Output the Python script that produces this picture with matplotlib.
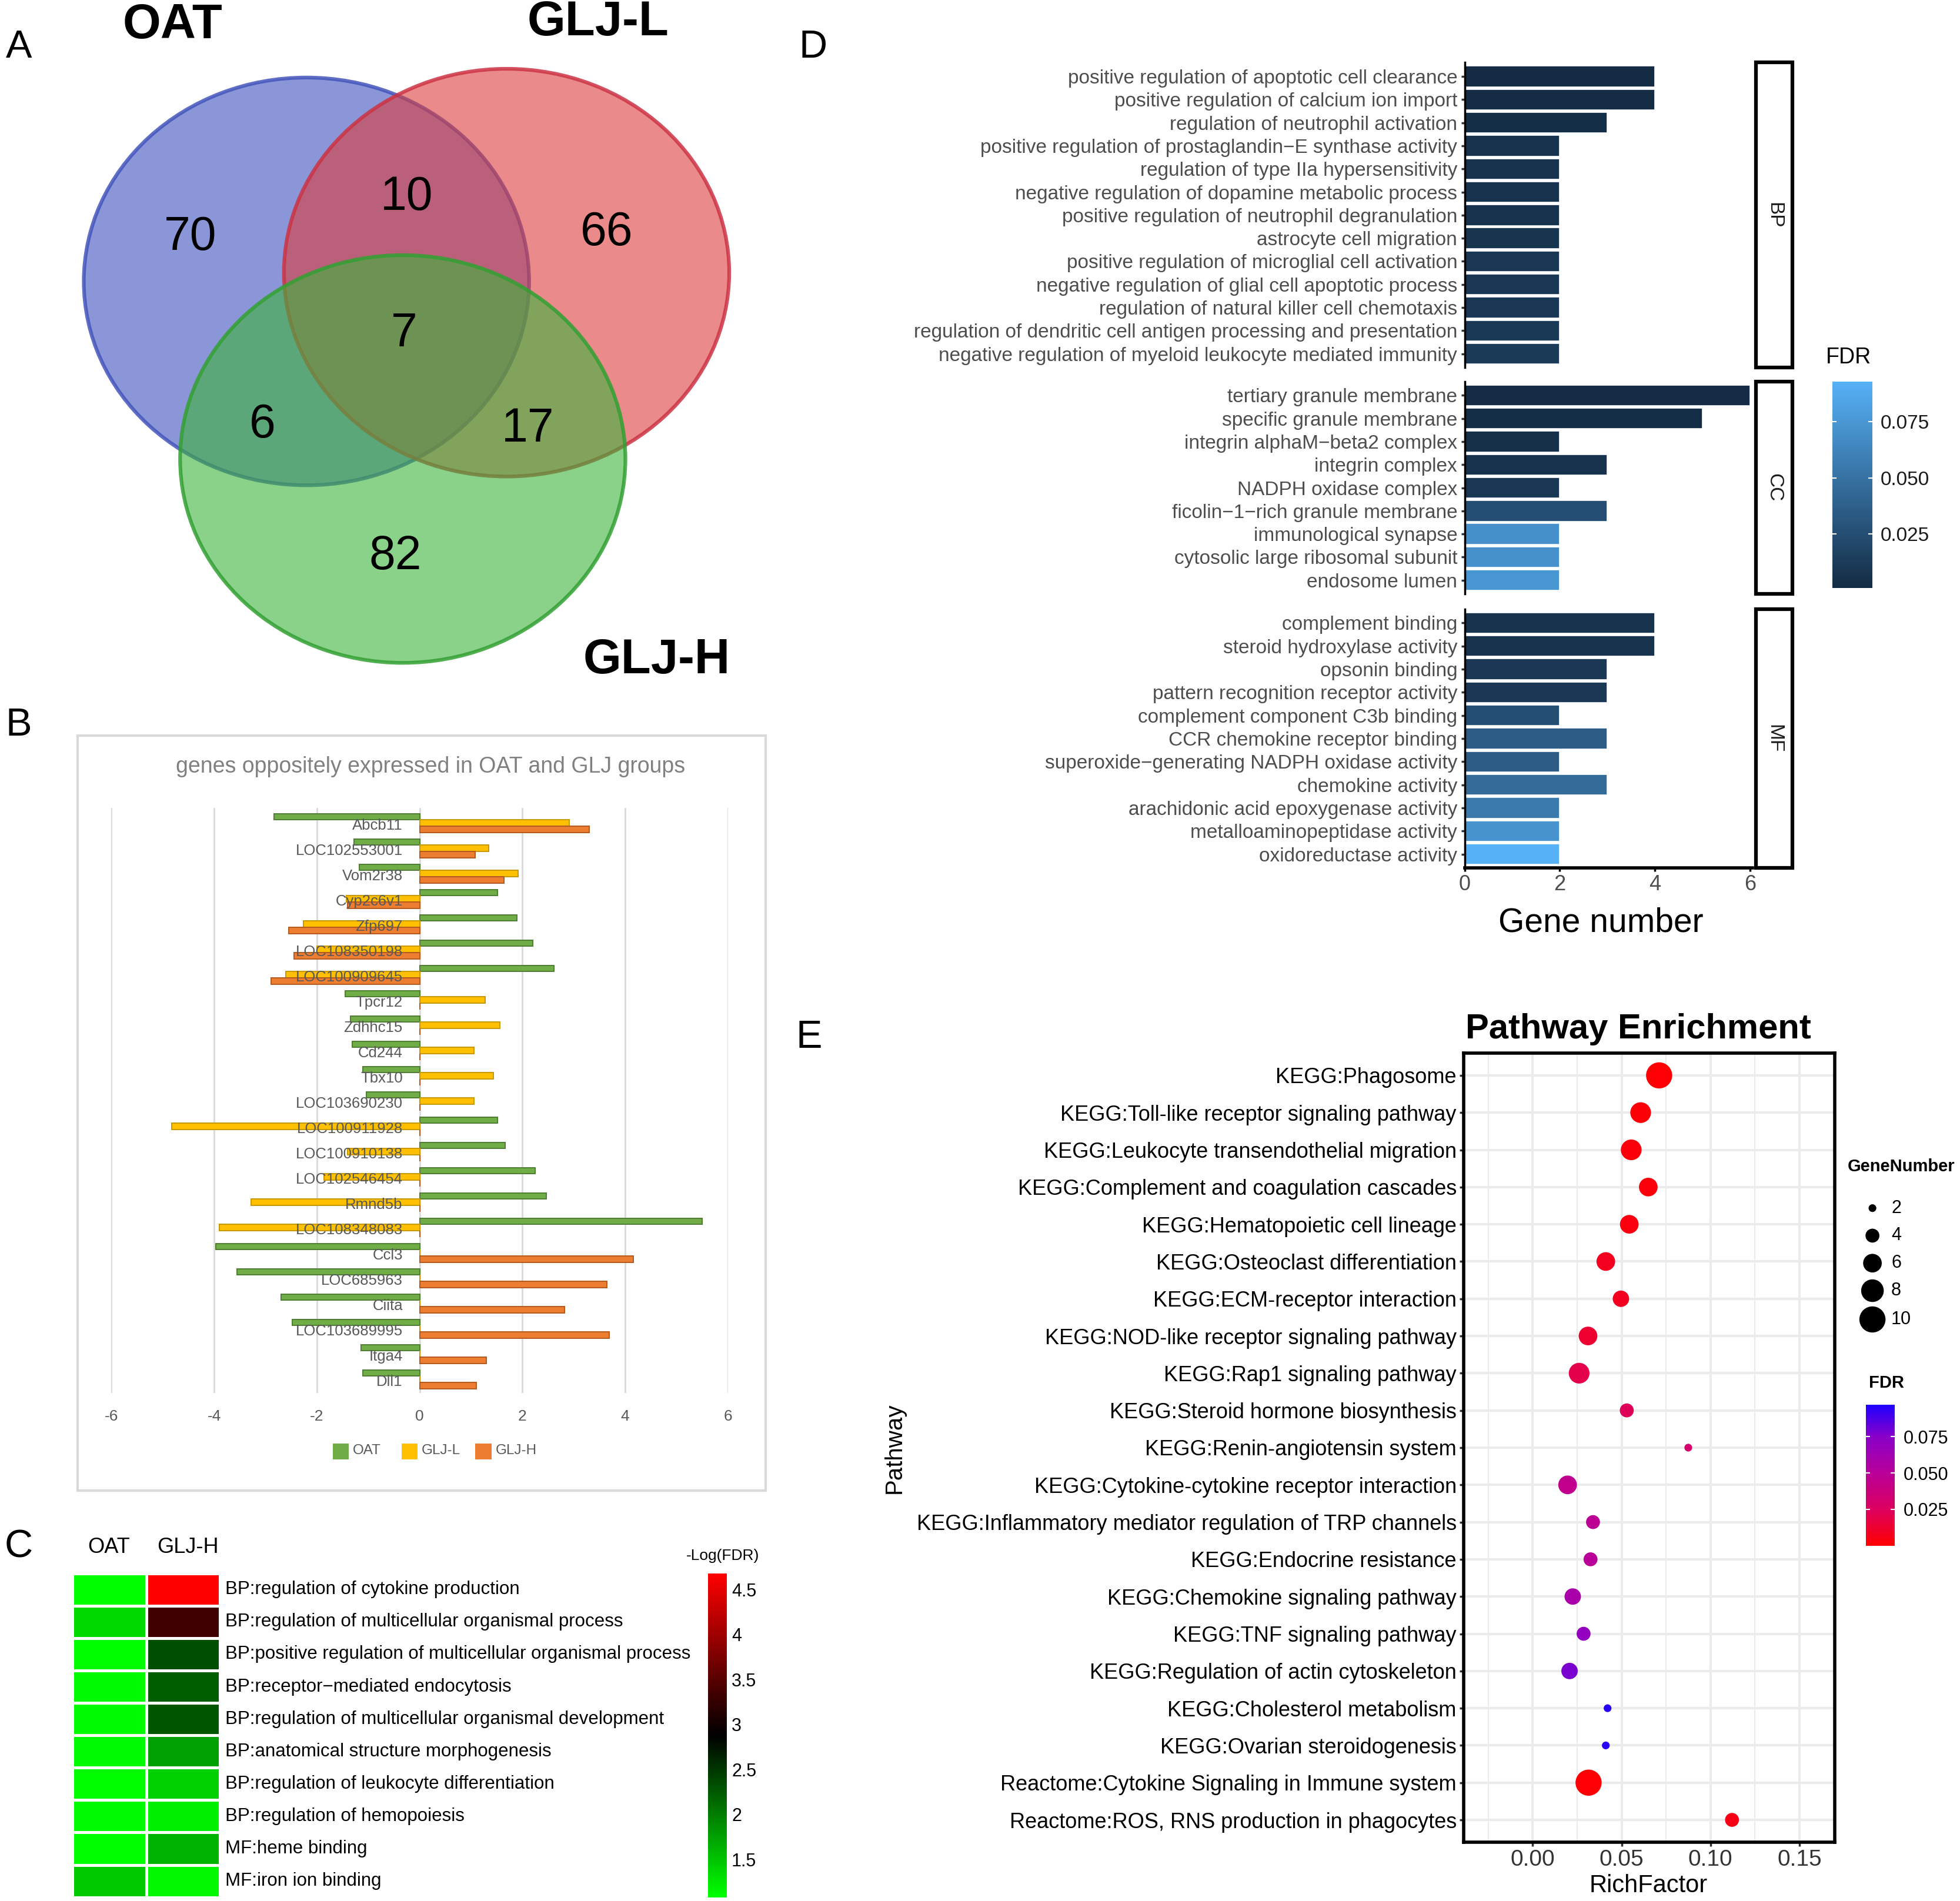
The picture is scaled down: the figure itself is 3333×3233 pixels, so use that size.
import numpy as np
import matplotlib
matplotlib.use("Agg")
import matplotlib.pyplot as plt
from matplotlib.patches import Ellipse, Rectangle
from matplotlib.colors import LinearSegmentedColormap, Normalize
from matplotlib.cm import ScalarMappable
from matplotlib import font_manager as fm

# ---- data ----------------------------------------------------------------
venn_labels = ["OAT", "GLJ-L", "GLJ-H"]
venn_counts = [70, 10, 66, 7, 6, 17, 82]

genes = ["Abcb11", "LOC102553001", "Vom2r38", "Cyp2c6v1", "Zfp697", "LOC108350198",
         "LOC100909645", "Tpcr12", "Zdhhc15", "Cd244", "Tbx10", "LOC103690230",
         "LOC100911928", "LOC100910138", "LOC102546454", "Rmnd5b", "LOC108348083",
         "Ccl3", "LOC685963", "Ciita", "LOC103689995", "Itga4", "Dll1"]
oat = [-2.83, -1.28, -1.17, 1.52, 1.89, 2.20, 2.61, -1.45, -1.35, -1.31, -1.11, -1.04,
       1.51, 1.66, 2.25, 2.47, 5.50, -3.97, -3.55, -2.70, -2.48, -1.14, -1.11]
glj_l = [2.91, 1.34, 1.92, -1.43, -2.26, -2.00, -2.61, 1.28, 1.56, 1.06, 1.43, 1.06,
         -4.82, -1.40, -1.86, -3.28, -3.90, 0, 0, 0, 0, 0, 0]
glj_h = [3.30, 1.08, 1.64, -1.40, -2.55, -2.45, -2.89, 0, 0, 0, 0, 0,
         0, 0, 0, 0, 0, 4.16, 3.64, 2.82, 3.69, 1.30, 1.10]

c_terms = ["BP:regulation of cytokine production",
           "BP:regulation of multicellular organismal process",
           "BP:positive regulation of multicellular organismal process",
           "BP:receptor\u2212mediated endocytosis",
           "BP:regulation of multicellular organismal development",
           "BP:anatomical structure morphogenesis",
           "BP:regulation of leukocyte differentiation",
           "BP:regulation of hemopoiesis",
           "MF:heme binding",
           "MF:iron ion binding"]
c_oat = [1.10, 1.35, 1.10, 1.12, 1.12, 1.12, 1.10, 1.12, 1.10, 1.47]
c_gljh = [4.68, 3.33, 2.32, 2.22, 2.28, 1.75, 1.42, 1.18, 1.62, 1.13]

bp_terms = ["positive regulation of apoptotic cell clearance",
            "positive regulation of calcium ion import",
            "regulation of neutrophil activation",
            "positive regulation of prostaglandin\u2212E synthase activity",
            "regulation of type IIa hypersensitivity",
            "negative regulation of dopamine metabolic process",
            "positive regulation of neutrophil degranulation",
            "astrocyte cell migration",
            "positive regulation of microglial cell activation",
            "negative regulation of glial cell apoptotic process",
            "regulation of natural killer cell chemotaxis",
            "regulation of dendritic cell antigen processing and presentation",
            "negative regulation of myeloid leukocyte mediated immunity"]
bp_count = [4, 4, 3, 2, 2, 2, 2, 2, 2, 2, 2, 2, 2]
bp_fdr = [0.001, 0.002, 0.003, 0.006, 0.006, 0.007, 0.007, 0.008, 0.009, 0.009, 0.010, 0.011, 0.012]

cc_terms = ["tertiary granule membrane", "specific granule membrane",
            "integrin alphaM\u2212beta2 complex", "integrin complex", "NADPH oxidase complex",
            "ficolin\u22121\u2212rich granule membrane", "immunological synapse",
            "cytosolic large ribosomal subunit", "endosome lumen"]
cc_count = [6, 5, 2, 3, 2, 3, 2, 2, 2]
cc_fdr = [0.002, 0.003, 0.004, 0.006, 0.009, 0.025, 0.070, 0.071, 0.074]

mf_terms = ["complement binding", "steroid hydroxylase activity", "opsonin binding",
            "pattern recognition receptor activity", "complement component C3b binding",
            "CCR chemokine receptor binding", "superoxide\u2212generating NADPH oxidase activity",
            "chemokine activity", "arachidonic acid epoxygenase activity",
            "metalloaminopeptidase activity", "oxidoreductase activity"]
mf_count = [4, 4, 3, 3, 2, 3, 2, 3, 2, 2, 2]
mf_fdr = [0.006, 0.007, 0.010, 0.010, 0.025, 0.035, 0.035, 0.045, 0.055, 0.072, 0.093]

pathways = ["KEGG:Phagosome", "KEGG:Toll-like receptor signaling pathway",
            "KEGG:Leukocyte transendothelial migration", "KEGG:Complement and coagulation cascades",
            "KEGG:Hematopoietic cell lineage", "KEGG:Osteoclast differentiation",
            "KEGG:ECM-receptor interaction", "KEGG:NOD-like receptor signaling pathway",
            "KEGG:Rap1 signaling pathway", "KEGG:Steroid hormone biosynthesis",
            "KEGG:Renin-angiotensin system", "KEGG:Cytokine-cytokine receptor interaction",
            "KEGG:Inflammatory mediator regulation of TRP channels", "KEGG:Endocrine resistance",
            "KEGG:Chemokine signaling pathway", "KEGG:TNF signaling pathway",
            "KEGG:Regulation of actin cytoskeleton", "KEGG:Cholesterol metabolism",
            "KEGG:Ovarian steroidogenesis", "Reactome:Cytokine Signaling in Immune system",
            "Reactome:ROS, RNS production in phagocytes"]
rich = [0.0711, 0.0607, 0.0554, 0.0650, 0.0543, 0.0411, 0.0496, 0.0311, 0.0261, 0.0529,
        0.0875, 0.0196, 0.0339, 0.0325, 0.0225, 0.0286, 0.0207, 0.0421, 0.0411, 0.0314, 0.1121]
gene_n = [10, 7, 7, 6, 6, 6, 5, 6, 7, 4, 2, 6, 4, 4, 5, 4, 5, 2, 2, 10, 4]
fdr_e = [0.001, 0.002, 0.003, 0.003, 0.004, 0.008, 0.009, 0.013, 0.020, 0.023, 0.030, 0.045,
         0.048, 0.050, 0.058, 0.070, 0.078, 0.095, 0.095, 0.001, 0.006]
size_breaks = [2, 4, 6, 8, 10]

# ---- layout helpers (positions in a 1567 x 1520 grid) --------------------
W, H = 1567.0, 1520.0
fig = plt.figure(figsize=(33.33, 32.33), dpi=100)


def rect(x0, y0, x1, y1):
    return [x0 / W, 1 - y1 / H, (x1 - x0) / W, (y1 - y0) / H]


def fx(x):
    return x / W


def fy(y):
    return 1 - y / H


def has_font(name):
    try:
        fm.findfont(fm.FontProperties(family=name), fallback_to_default=False)
        return True
    except ValueError:
        return False


SANS = "Liberation Sans"
NARROW = "Liberation Sans Narrow" if has_font("Liberation Sans Narrow") else SANS
NK = 1.15 if NARROW != SANS else 1.0
plt.rcParams["font.family"] = [SANS, "DejaVu Sans"]

# panel letters
for letter, (x, y) in zip("ABCDE", [(15, 38), (15, 580), (15, 1237), (650, 38), (647, 830)]):
    fig.text(fx(x), fy(y), letter, fontsize=48, ha="center", va="center")

# ---- A: venn ---------------------------------------------------------------
axA = fig.add_axes(rect(0, 0, 640, 575))
axA.set_xlim(0, 640)
axA.set_ylim(575, 0)
axA.axis("off")
centers = [(245, 225), (405, 218), (322, 367)]
fills = ["#3c50be", "#dc3c3c", "#3cb43c"]
edges = ["#4455bb", "#cc3344", "#33a033"]
for (cx, cy), fc, ec in zip(centers, fills, edges):
    axA.add_patch(Ellipse((cx, cy), 356, 326, facecolor=fc, alpha=0.6, edgecolor="none"))
    axA.add_patch(Ellipse((cx, cy), 356, 326, facecolor="none", edgecolor=ec, lw=4.5, alpha=0.85))
for lab, (x, y) in zip(venn_labels, [(138, 20), (478, 18), (525, 528)]):
    axA.text(x, y, lab, fontsize=60, fontweight="bold", ha="center", va="center")
for n, (x, y) in zip(venn_counts, [(152, 190), (325, 158), (485, 186), (323, 267),
                                   (210, 340), (422, 343), (316, 445)]):
    axA.text(x, y, str(n), fontsize=58, ha="center", va="center")

# ---- B: bar chart ----------------------------------------------------------
fig.add_artist(Rectangle((fx(62), fy(1192)), fx(612) - fx(62), fy(588) - fy(1192),
                         transform=fig.transFigure, facecolor="none",
                         edgecolor="#d9d9d9", lw=3))
fig.text(fx(344), fy(613), "genes oppositely expressed in OAT and GLJ groups",
         fontsize=27 * NK, family=NARROW, color="#808080", ha="center", va="center")
axB = fig.add_axes(rect(89, 646, 582, 1114))
yb = np.arange(len(genes))
bh = 0.25
axB.barh(yb - bh, oat, height=bh, color="#70ad47", edgecolor="#4f7d32", lw=1.4, zorder=3)
axB.barh(yb, glj_l, height=bh, color="#ffc000", edgecolor="#c99700", lw=1.4, zorder=3)
axB.barh(yb + bh, glj_h, height=bh, color="#ed7d31", edgecolor="#b35a1e", lw=1.4, zorder=3)
axB.set_xlim(-6, 6)
axB.set_ylim(22.55, -0.6)
axB.set_xticks(range(-6, 7, 2))
axB.set_xticklabels([str(v) for v in range(-6, 7, 2)])
axB.set_yticks([])
axB.tick_params(axis="x", length=0, pad=20, labelsize=19 * NK, labelcolor="#595959")
for lab in axB.get_xticklabels():
    lab.set_family(NARROW)
axB.grid(axis="x", color="#d9d9d9", lw=2)
axB.set_axisbelow(True)
axB.patch.set_alpha(0)
for s in axB.spines.values():
    s.set_visible(False)
for i, g in enumerate(genes):
    axB.text(-0.33, i + 0.1, g, ha="right", va="center", fontsize=18.5 * NK,
             family=NARROW, color="#595959", zorder=4)
for lab, col, x in zip(["OAT", "GLJ-L", "GLJ-H"], ["#70ad47", "#ffc000", "#ed7d31"],
                       [266, 321, 380]):
    fig.add_artist(Rectangle((fx(x), fy(1167)), fx(13), fy(0) - fy(13),
                             transform=fig.transFigure, facecolor=col, edgecolor="none"))
    fig.text(fx(x + 16), fy(1160), lab, fontsize=17.5 * NK, family=NARROW,
             color="#595959", ha="left", va="center")

# ---- C: heatmap ------------------------------------------------------------
cmap_c = LinearSegmentedColormap.from_list("gkr", ["#00ff00", "#000000", "#ff0000"])
norm_c = Normalize(1.08, 4.68)
axC = fig.add_axes(rect(58, 1258, 176, 1517))
axC.pcolormesh(np.array([c_oat, c_gljh]).T, cmap=cmap_c, norm=norm_c,
               edgecolors="white", linewidth=2.5)
axC.set_xlim(0, 2)
axC.set_ylim(10, 0)
axC.axis("off")
for i, t in enumerate(c_terms):
    axC.text(2.07, i + 0.5, t, ha="left", va="center", fontsize=22.5 * NK, family=NARROW)
fig.text(fx(87), fy(1237), "OAT", fontsize=26 * NK, family=NARROW, ha="center", va="center")
fig.text(fx(150), fy(1237), "GLJ-H", fontsize=26 * NK, family=NARROW, ha="center", va="center")
caxC = fig.add_axes(rect(566, 1258, 581, 1517))
cbC = fig.colorbar(ScalarMappable(norm=norm_c, cmap=cmap_c), cax=caxC)
cbC.outline.set_visible(False)
cbC.set_ticks([1.5, 2, 2.5, 3, 3.5, 4, 4.5])
cbC.set_ticklabels(["1.5", "2", "2.5", "3", "3.5", "4", "4.5"])
caxC.tick_params(length=0, labelsize=22 * NK, pad=6)
for lab in caxC.get_yticklabels():
    lab.set_family(NARROW)
fig.text(fx(578), fy(1244), "-Log(FDR)", fontsize=19 * NK, family=NARROW, ha="center", va="center")

# ---- D: GO bars ------------------------------------------------------------
cmap_d = LinearSegmentedColormap.from_list("gg", ["#132b43", "#56b1f7"])
norm_d = Normalize(0.001, 0.093)
panels = [(bp_terms, bp_count, bp_fdr, "BP", 50, 294),
          (cc_terms, cc_count, cc_fdr, "CC", 305, 475),
          (mf_terms, mf_count, mf_fdr, "MF", 487, 694)]
for k, (terms, cnt, fdr, tag, y0, y1) in enumerate(panels):
    ax = fig.add_axes(rect(1171, y0, 1401, y1))
    yy = np.arange(len(terms))
    ax.barh(yy, cnt, height=0.9, color=cmap_d(norm_d(np.array(fdr))),
            edgecolor="white", lw=1.2)
    ax.set_xlim(0, 6.05)
    ax.set_ylim(len(terms) - 0.4, -0.6)
    ax.set_yticks(yy)
    ax.set_yticklabels(terms, fontsize=24 * NK, family=NARROW, color="#4d4d4d")
    ax.tick_params(axis="y", length=4, width=2.5, color="#333333", pad=5)
    for s in ["top", "right"]:
        ax.spines[s].set_visible(False)
    ax.spines["left"].set_linewidth(2.5)
    if k == 2:
        ax.spines["bottom"].set_linewidth(4)
        ax.set_xticks([0, 2, 4, 6])
        ax.set_xticklabels(["0", "2", "4", "6"])
        ax.tick_params(axis="x", length=4, width=2.5, labelsize=26 * NK,
                       labelcolor="#4d4d4d", pad=4)
        for lab in ax.get_xticklabels():
            lab.set_family(NARROW)
    else:
        ax.spines["bottom"].set_visible(False)
        ax.set_xticks([])
    fig.add_artist(Rectangle((fx(1404), fy(y1)), fx(1433) - fx(1404), fy(y0) - fy(y1),
                             transform=fig.transFigure, facecolor="none",
                             edgecolor="black", lw=4.5))
    fig.text(fx(1418.5), fy((y0 + y1) / 2), tag, rotation=-90, fontsize=24,
             ha="center", va="center", color="#1a1a1a")
fig.text(fx(1280), fy(738), "Gene number", fontsize=41 * NK, family=NARROW,
         ha="center", va="center")
caxD = fig.add_axes(rect(1465, 305, 1497, 470))
cbD = fig.colorbar(ScalarMappable(norm=norm_d, cmap=cmap_d), cax=caxD)
cbD.outline.set_visible(False)
cbD.set_ticks([0.025, 0.05, 0.075])
cbD.set_ticklabels(["0.025", "0.050", "0.075"])
caxD.yaxis.set_ticks_position("both")
caxD.tick_params(length=5, width=1.5, color="white", direction="in",
                 labelsize=24 * NK, labelcolor="#1a1a1a", pad=10)
for lab in caxD.get_yticklabels():
    lab.set_family(NARROW)
fig.text(fx(1478), fy(286), "FDR", fontsize=27 * NK, family=NARROW, ha="center", va="center")

# ---- E: pathway dot plot ---------------------------------------------------
cmap_e = LinearSegmentedColormap.from_list(
    "rb", [(0, "#ff0000"), (0.26, "#dc0060"), (0.52, "#b8009a"), (0.77, "#8a00c8"),
           (1, "#1e00ff")])
norm_e = Normalize(0, 0.097)


def dot_area(n):
    d = 6.2 + 8.41 * (np.sqrt(np.asarray(n, float)) - np.sqrt(2))
    return (d * (3333 / W) * 0.72) ** 2


axE = fig.add_axes(rect(1170, 842, 1467, 1473))
ye = np.arange(len(pathways))
axE.scatter(rich, ye, s=dot_area(gene_n), c=fdr_e, cmap=cmap_e, norm=norm_e,
            edgecolors="none", zorder=3)
axE.set_xlim(-0.039, 0.170)
axE.set_ylim(len(pathways) - 0.4, -0.6)
axE.set_xticks([0, 0.05, 0.10, 0.15])
axE.set_xticklabels(["0.00", "0.05", "0.10", "0.15"])
axE.set_xticks([-0.025, 0.025, 0.075, 0.125], minor=True)
axE.set_yticks(ye)
axE.set_yticklabels(pathways, fontsize=26 * NK, family=NARROW)
axE.tick_params(axis="both", which="major", length=5, width=2.5, color="#333333")
axE.tick_params(axis="x", which="minor", length=0)
axE.tick_params(axis="x", labelsize=28 * NK, labelcolor="#333333")
for lab in axE.get_xticklabels():
    lab.set_family(NARROW)
axE.grid(which="major", color="#ebebeb", lw=3)
axE.grid(which="minor", axis="x", color="#ebebeb", lw=1.5)
axE.set_axisbelow(True)
for s in axE.spines.values():
    s.set_linewidth(4)
fig.text(fx(1310), fy(823), "Pathway Enrichment", fontsize=43 * NK, family=NARROW,
         fontweight="bold", ha="center", va="center")
fig.text(fx(1318), fy(1508), "RichFactor", fontsize=30 * NK, family=NARROW,
         ha="center", va="center")
fig.text(fx(715), fy(1158), "Pathway", fontsize=29, rotation=90, ha="center", va="center")

# size legend
fig.text(fx(1477), fy(933), "GeneNumber", fontsize=21, fontweight="bold", ha="left", va="center")
axL = fig.add_axes(rect(1475, 950, 1567, 1070))
axL.set_xlim(1475, 1567)
axL.set_ylim(1070, 950)
axL.axis("off")
ly = [966, 988, 1010, 1032, 1055]
axL.scatter([1497] * len(size_breaks), ly, s=dot_area(size_breaks), color="black",
            edgecolors="none")
for v, y in zip(size_breaks, ly):
    axL.text(1512, y, str(v), fontsize=22, ha="left", va="center")

fig.text(fx(1494), fy(1106), "FDR", fontsize=21, fontweight="bold", ha="left", va="center")
caxE = fig.add_axes(rect(1492, 1123, 1515, 1236))
cbE = fig.colorbar(ScalarMappable(norm=norm_e, cmap=cmap_e), cax=caxE)
cbE.outline.set_visible(False)
cbE.set_ticks([0.025, 0.05, 0.075])
cbE.set_ticklabels(["0.025", "0.050", "0.075"])
caxE.yaxis.set_ticks_position("both")
caxE.tick_params(length=5, width=1.5, color="white", direction="in",
                 labelsize=22, pad=10)

fig.savefig("out.png", dpi=100)
